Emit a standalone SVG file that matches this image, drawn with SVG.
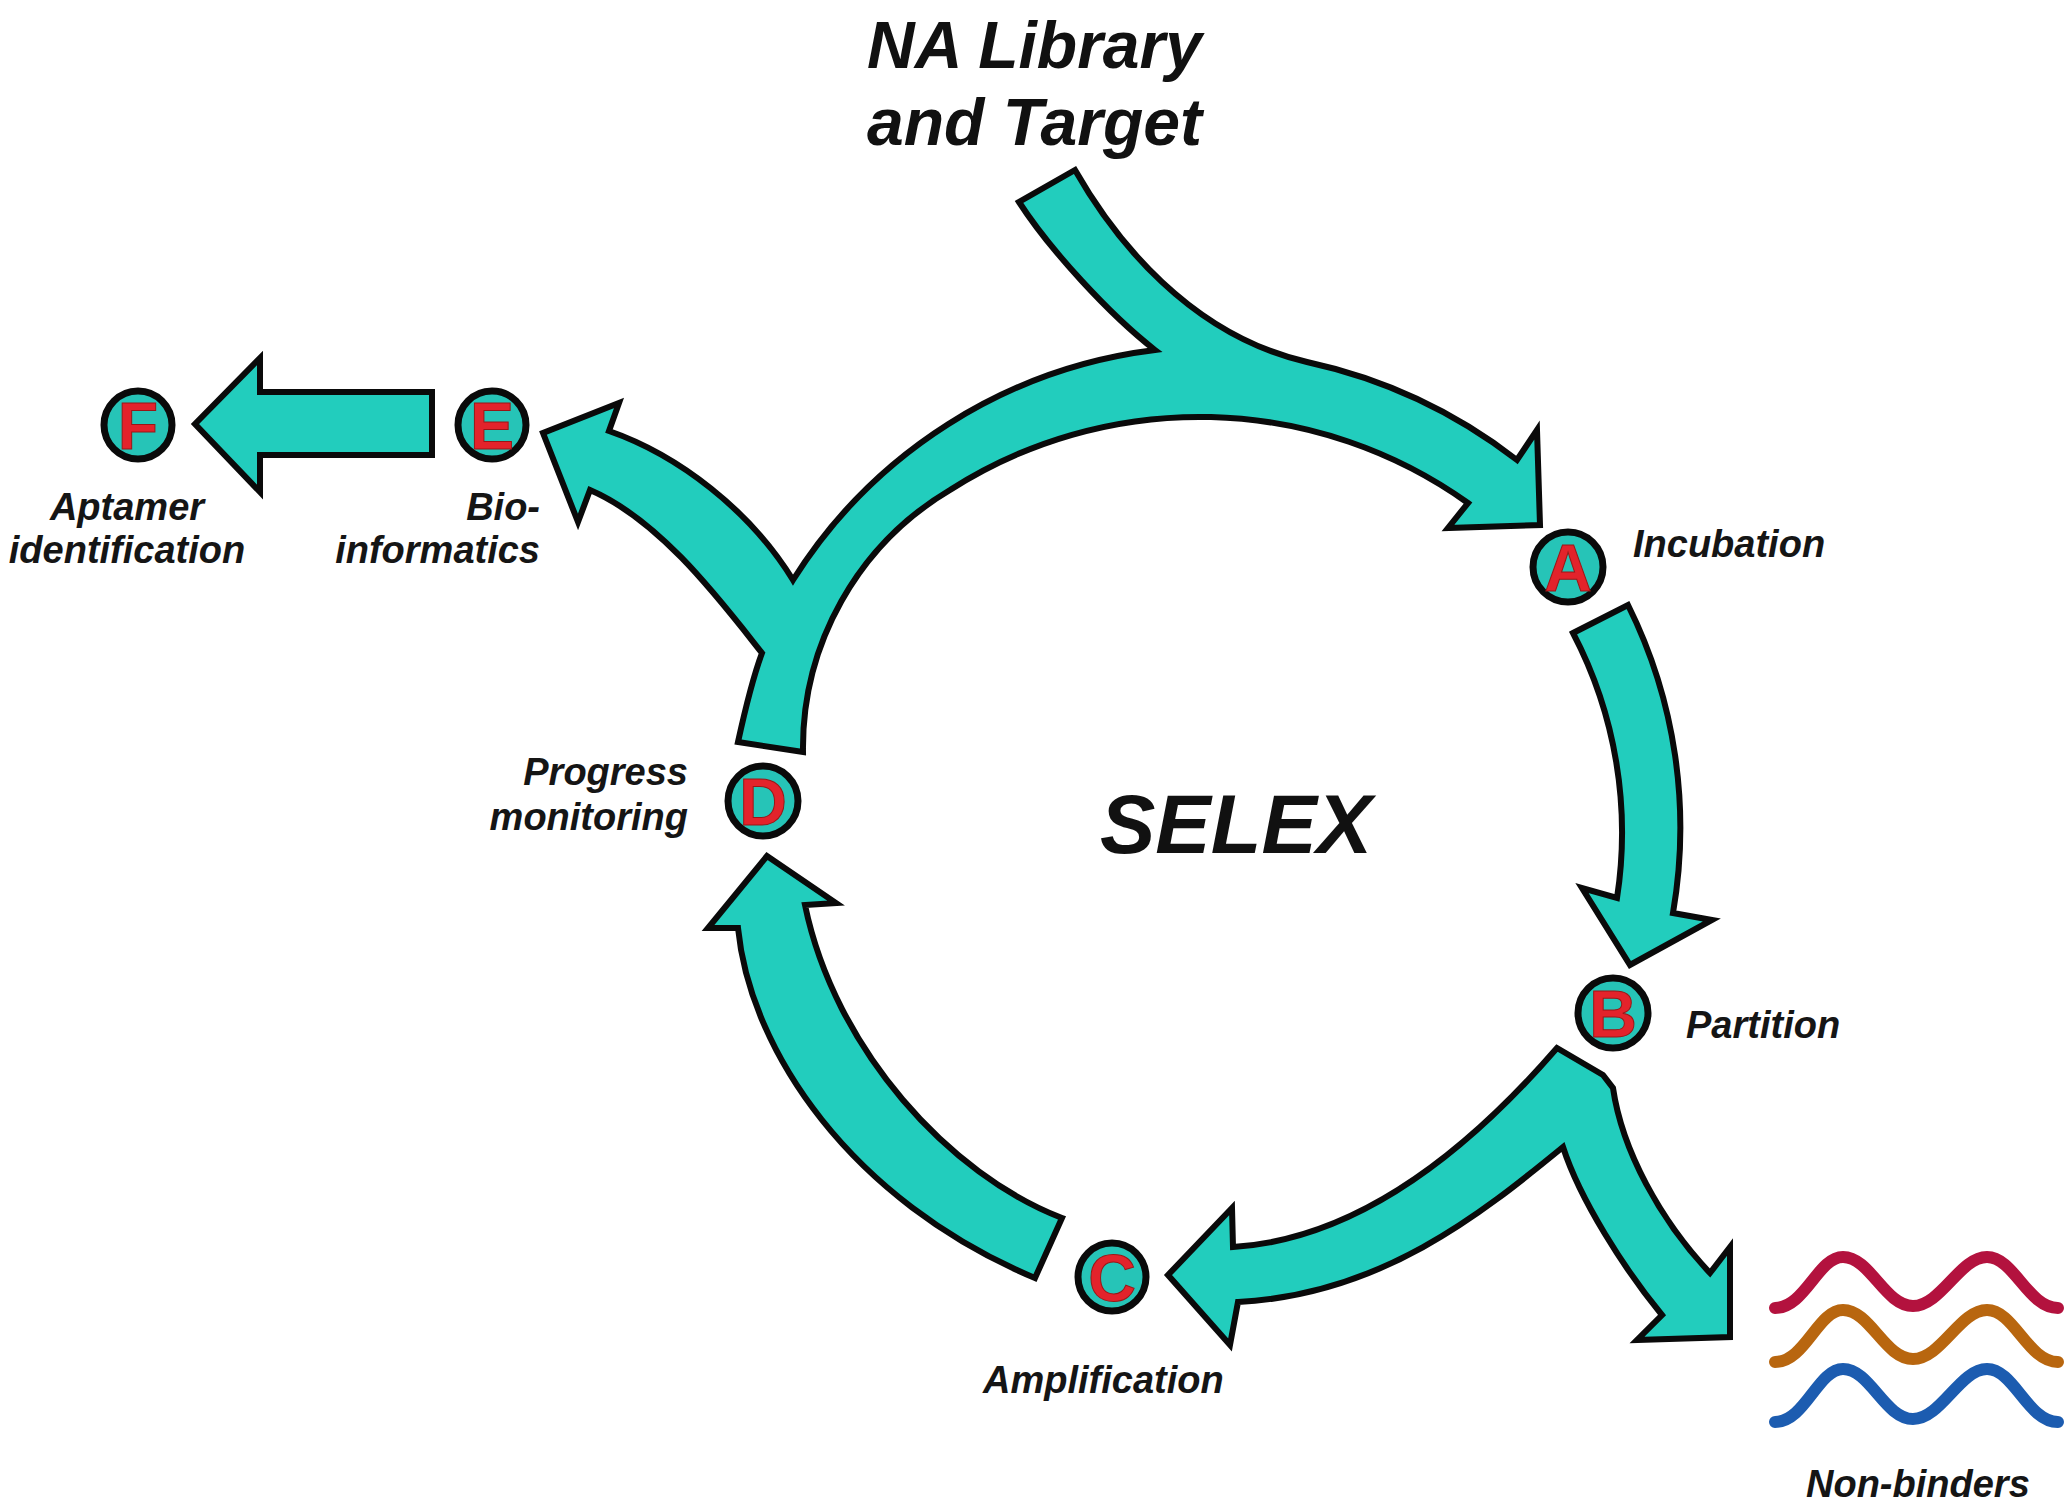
<svg xmlns="http://www.w3.org/2000/svg" width="2068" height="1506" viewBox="0 0 2068 1506">
<style>
.arr{fill:#22CDBD;stroke:#0a0a0a;stroke-width:6;stroke-linejoin:miter;stroke-miterlimit:6}
.node circle{fill:#26C4B7;stroke:#0a0a0a;stroke-width:7}
.node .ltr{font-family:"Liberation Sans",Arial,sans-serif;font-weight:bold;font-size:66px;fill:#E3232B;stroke:#9a1616;stroke-width:1;text-anchor:middle}
.lbl{font-family:"Liberation Sans",Arial,sans-serif;font-weight:bold;font-style:italic;font-size:38px;fill:#151515}
.big{font-family:"Liberation Sans",Arial,sans-serif;font-weight:bold;font-style:italic;fill:#111}
.wave{fill:none;stroke-width:12;stroke-linecap:round}
</style>
<rect width="2068" height="1506" fill="#ffffff"/>

<g id="connectors">
  <path id="arrow-main" class="arr" d="M1075,170 C1115,240 1190,335 1307,362 A525,525 0 0 1 1517,460 L1537,430 L1540,525 L1448,528 L1468,503 A462,462 0 0 0 950,490 A300,300 0 0 0 803,752 L738,742 C745,710 752,680 762,653 C720,600 660,520 590,490 L578,522 L543,433 L619,403 L609,431 C678,455 750,510 793,580 A500,500 0 0 1 1155,350 C1110,315 1050,250 1019,202 Z"/>
  <path id="arrow-AB" class="arr" d="M1573,633 L1628,605 A500,500 0 0 1 1673,913 L1712,920 L1630,965 L1582,888 L1617,898 A430,430 0 0 0 1573,633 Z"/>
  <path id="arrow-B-split" class="arr" d="M1557,1048 L1603,1075 L1613,1088 C1622,1150 1660,1220 1710,1273 L1730,1247 L1730,1337 L1637,1340 L1662,1315 C1625,1270 1580,1200 1563,1147 C1480,1215 1380,1295 1238,1302 L1230,1345 L1168,1275 L1232,1208 L1233,1247 C1350,1240 1460,1160 1557,1048 Z"/>
  <path id="arrow-CD" class="arr" d="M1035,1278 L1062,1218 C950,1175 835,1050 805,905 L836,903 L767,856 L708,928 L738,928 C750,1050 850,1200 1035,1278 Z"/>
  <path id="arrow-EF" class="arr" d="M432,392 L260,392 L260,358 L195,424 L260,492 L260,455 L432,455 Z"/>
</g>

<g id="node-A" class="node"><circle cx="1568" cy="567" r="35"/><text class="ltr" x="1568" y="591">A</text></g>
<g id="node-B" class="node"><circle cx="1613" cy="1013" r="35"/><text class="ltr" x="1613" y="1037">B</text></g>
<g id="node-C" class="node"><circle cx="1112" cy="1277" r="34"/><text class="ltr" x="1112" y="1301">C</text></g>
<g id="node-D" class="node"><circle cx="763" cy="801" r="35"/><text class="ltr" x="763" y="825">D</text></g>
<g id="node-E" class="node"><circle cx="492" cy="425" r="34"/><text class="ltr" x="492" y="449">E</text></g>
<g id="node-F" class="node"><circle cx="138" cy="425" r="34"/><text class="ltr" x="138" y="449">F</text></g>

<g id="labels">
  <text class="big" x="867" y="68" font-size="66">NA Library</text>
  <text class="big" x="867" y="145" font-size="66">and Target</text>
  <text class="big" x="1100" y="853" font-size="83">SELEX</text>
  <text class="lbl" x="1633" y="557">Incubation</text>
  <text class="lbl" x="1686" y="1038">Partition</text>
  <text class="lbl" x="983" y="1393">Amplification</text>
  <text class="lbl" x="688" y="785" text-anchor="end">Progress</text>
  <text class="lbl" x="688" y="830" text-anchor="end">monitoring</text>
  <text class="lbl" x="540" y="520" text-anchor="end">Bio-</text>
  <text class="lbl" x="540" y="563" text-anchor="end">informatics</text>
  <text class="lbl" x="127" y="520" text-anchor="middle">Aptamer</text>
  <text class="lbl" x="127" y="563" text-anchor="middle">identification</text>
  <text class="lbl" x="1806" y="1497">Non-binders</text>
</g>

<g id="non-binders">
  <path class="wave" stroke="#B3123E" d="M1775,1308 C1805,1308 1818,1257 1843,1257 C1870,1257 1885,1306 1913,1306 C1941,1306 1960,1257 1987,1257 C2014,1257 2028,1308 2058,1308"/>
  <path class="wave" stroke="#B8660F" d="M1775,1362 C1805,1362 1818,1310 1843,1310 C1870,1310 1885,1359 1913,1359 C1941,1359 1960,1310 1987,1310 C2014,1310 2028,1362 2058,1362"/>
  <path class="wave" stroke="#1C5CB0" d="M1775,1422 C1805,1422 1818,1369 1843,1369 C1870,1369 1885,1419 1913,1419 C1941,1419 1960,1369 1987,1369 C2014,1369 2028,1422 2058,1422"/>
</g>
</svg>
